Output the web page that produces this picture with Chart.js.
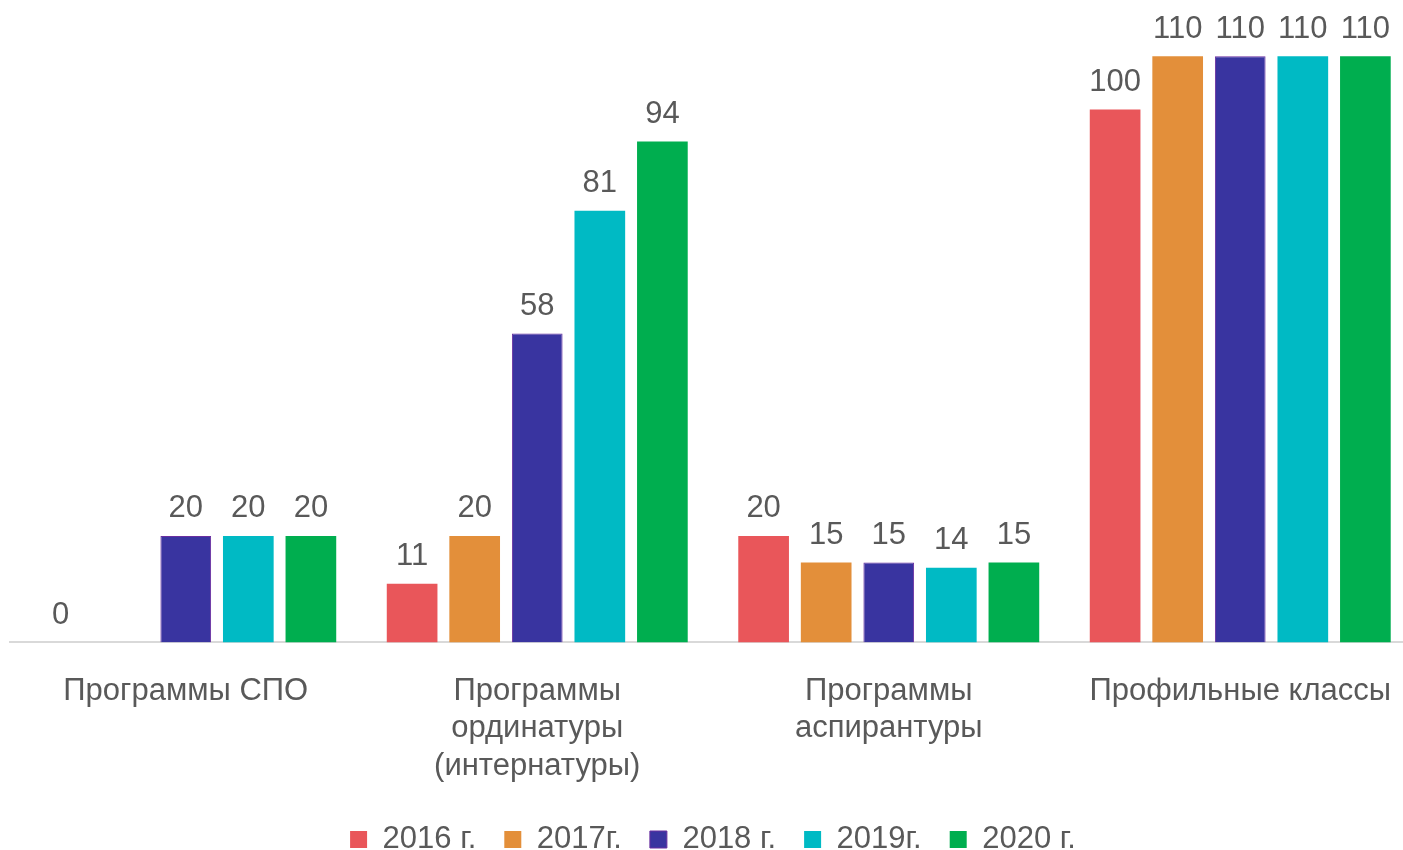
<!DOCTYPE html>
<html>
<head>
<meta charset="utf-8">
<script src="https://cdn.jsdelivr.net/npm/chart.js@4"></script>
<style>
  html, body { margin: 0; padding: 0; background: #fff; overflow: hidden; }
  #wrap { width: 1416px; height: 865px; }
</style>
</head>
<body>
<div id="wrap"><canvas id="chart"></canvas></div>
<script>
const categories = [
  ["Программы СПО"],
  ["Программы", "ординатуры", "(интернатуры)"],
  ["Программы", "аспирантуры"],
  ["Профильные классы"]
];
const seriesNames = ["2016 г.", "2017г.", "2018 г.", "2019г.", "2020 г."];
const values2016 = [0, 11, 20, 100];
const values2017 = [null, 20, 15, 110];
const values2018 = [20, 58, 15, 110];
const values2019 = [20, 81, 14, 110];
const values2020 = [20, 94, 15, 110];
const seriesColors = ["#E9565A", "#E38F3A", "#3934A0", "#00BAC4", "#00AE4F"];

const allValues = [values2016, values2017, values2018, values2019, values2020];
const fontFamily = "'Liberation Sans', Arial, sans-serif";

// value labels above the bars
const barLabels = {
  id: "barLabels",
  afterDatasetsDraw(chart) {
    const ctx = chart.ctx;
    ctx.save();
    ctx.font = "31px " + fontFamily;
    ctx.fillStyle = "#595959";
    ctx.textAlign = "center";
    ctx.textBaseline = "middle";
    chart.data.datasets.forEach((ds, i) => {
      chart.getDatasetMeta(i).data.forEach((bar, j) => {
        const v = ds.data[j];
        if (v === null || v === undefined) return;
        ctx.fillText(String(v), bar.x, bar.y - 27);
      });
    });
    ctx.restore();
  }
};

new Chart(document.getElementById("chart").getContext("2d"), {
  type: "bar",
  data: {
    labels: categories,
    datasets: seriesNames.map((name, i) => ({
      label: name,
      data: allValues[i],
      backgroundColor: seriesColors[i],
      borderColor: i === 2 ? "#6A2FA0" : seriesColors[i],
      borderWidth: i === 2 ? 1 : 0,
      categoryPercentage: 0.89,
      barPercentage: 0.81
    }))
  },
  options: {
    responsive: true,
    maintainAspectRatio: false,
    animation: false,
    layout: { padding: { top: 3, left: 10, right: 0, bottom: 0 } },
    plugins: {
      legend: {
        position: "bottom",
        labels: {
          font: { size: 31, family: fontFamily },
          color: "#595959",
          boxWidth: 17,
          boxHeight: 17,
          padding: 28
        }
      },
      tooltip: { enabled: false }
    },
    scales: {
      x: {
        grid: { display: false },
        border: { display: true, color: "#D9D9D9", width: 2 },
        ticks: {
          color: "#595959",
          font: { size: 31, family: fontFamily, lineHeight: 1.21 },
          padding: 22,
          maxRotation: 0
        },
        // pull the legend a bit closer to the category labels
        afterFit(scale) { scale.height -= 11; }
      },
      y: {
        display: false,
        beginAtZero: true,
        max: 120
      }
    }
  },
  plugins: [barLabels]
});
</script>
</body>
</html>
